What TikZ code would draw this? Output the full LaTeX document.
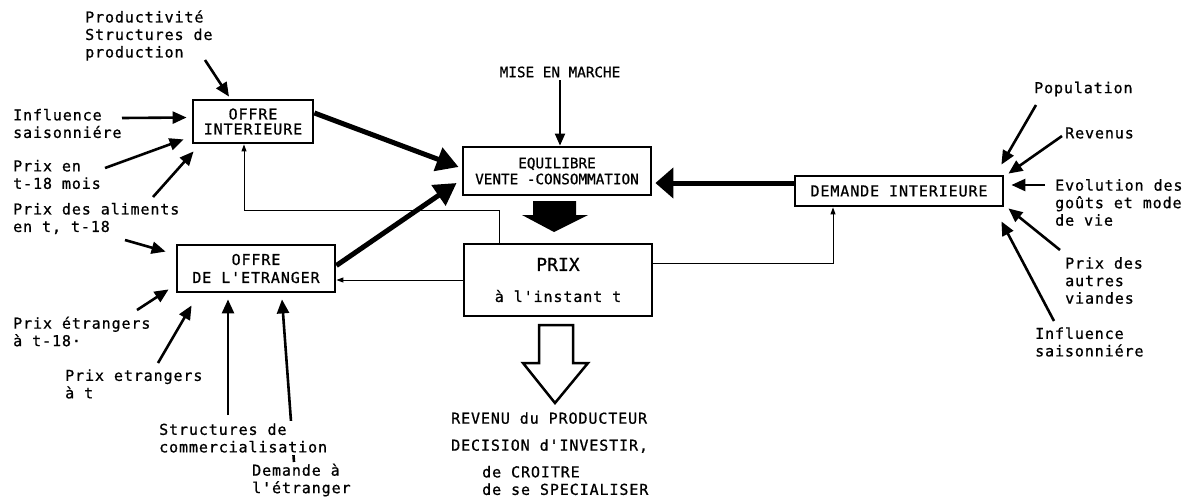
\documentclass[tikz,border=0pt]{standalone}
\usepackage{fontspec}
\newfontfamily\tw{DejaVu Sans Mono}[LetterSpace=6,Ligatures=TeXOff,FakeBold=0.8]
\newfontfamily\twn{DejaVu Sans Mono}[Ligatures=TeXOff,FakeBold=0.8]
\usetikzlibrary{arrows.meta}
\begin{document}
\begin{tikzpicture}[x=1pt,y=-1pt,
    boite/.style={draw, line width=2.8pt, inner sep=0pt, align=center, font=\tw\fontsize{15}{15}\selectfont},
    etiq/.style={inner sep=0pt, anchor=west, align=left, font=\tw\fontsize{15}{17.5}\selectfont},
    entree/.style={line width=2.6pt, -{Triangle[length=14pt,width=12pt]}},
    gros/.style={line width=5pt, -{Triangle[length=22pt,width=24pt]}},
    fin/.style={line width=1pt, -{Triangle[length=7pt,width=5pt]}}]
\useasboundingbox (0,0) rectangle (1203,499);

% blocs
\node[boite, minimum width=120pt, minimum height=43pt] (oi) at (253,121.5) {OFFRE\\INTERIEURE};
\node[boite, minimum width=158pt, minimum height=47pt] (oe) at (256,268.5) {OFFRE\\[3pt]DE L'ETRANGER};
\node[boite, minimum width=188pt, minimum height=48pt, font=\twn\fontsize{14.3}{16}\selectfont] (eq) at (557,171) {EQUILIBRE\\VENTE -CONSOMMATION};
\node[boite, minimum width=188pt, minimum height=72pt] (px) at (558,280) {{\twn\fontsize{18}{18}\selectfont PRIX}\\[16pt]à l'instant t};
\node[boite, minimum width=208pt, minimum height=30pt] (di) at (899,191) {DEMANDE INTERIEURE};

% facteurs a gauche
\node[etiq] (prod) at (85,35.5) {Productivité\\Structures de\\production};
\node[etiq] (inflg) at (13,123.5) {Influence\\saisonniére};
\node[etiq] (pt18) at (13,174.5) {Prix en\\t-18 mois};
\node[etiq] (alim) at (13,218.5) {Prix des aliments\\en t, t-18};
\node[etiq] (pe18) at (13,331.5) {Prix étrangers\\à t-18·};
\node[etiq] (pet) at (65,384) {Prix etrangers\\à t};
\node[etiq] (dem) at (252,480) {Demande à\\l'étranger};

\coordinate (s1) at (205,60);
\coordinate (s2) at (122,118);
\coordinate (s3) at (105,168);
\coordinate (s4) at (153,197);
\coordinate (s5) at (125,240);
\coordinate (s6) at (137,310);
\coordinate (s7) at (158,363);
\coordinate (s8) at (228,415);
\coordinate (s9) at (294,462);

\draw[entree] (s1) -- ([xshift=-24pt,yshift=2pt]oi.north);
\draw[entree] (s2) -- ([xshift=-5pt,yshift=4pt]oi.west);
\draw[entree] (s3) -- ([xshift=-8pt,yshift=5pt]oi.south west);
\draw[entree] (s4) -- ([xshift=2pt,yshift=-7pt]oi.south west);
\draw[entree] (s5) -- ([xshift=-10pt,yshift=-8pt]oe.north west);
\draw[entree] (s6) -- ([xshift=-7pt,yshift=4pt]oe.south west);
\draw[entree] (s7) -- ([xshift=16pt,yshift=-12pt]oe.south west);
\draw[entree] (s8) -- ([xshift=-28pt,yshift=-6pt]oe.south);
\draw[entree] (s9) -- ([xshift=26pt,yshift=-6pt]oe.south);

\node[etiq, fill=white, inner ysep=2pt] (scom) at (159,438) {Structures de\\commercialisation};

% facteurs a droite
\node[etiq] (pop) at (1034,89) {Population};
\node[etiq] (revn) at (1065,133) {Revenus};
\node[etiq] (evol) at (1055,202.5) {Evolution des\\goûts et mode\\de vie};
\node[etiq] (pav) at (1065,280.5) {Prix des\\autres\\viandes};
\node[etiq] (inflr) at (1035,342) {Influence\\saisonniére};

\coordinate (r1) at (1036,105);
\coordinate (r2) at (1062,136);
\coordinate (r3) at (1045,185);
\coordinate (r4) at (1060,250);
\coordinate (r5) at (1054,321);

\draw[entree] (r1) -- ([xshift=-3pt,yshift=10pt]di.north east);
\draw[entree] (r2) -- ([xshift=4pt,yshift=1pt]di.north east);
\draw[entree] (r3) -- ([xshift=7pt,yshift=6pt]di.east);
\draw[entree] (r4) -- ([xshift=4pt,yshift=-1pt]di.south east);
\draw[entree] (r5) -- ([xshift=-3pt,yshift=-14pt]di.south east);

% centre
\node[font=\twn\fontsize{14.3}{16}\selectfont, inner sep=0pt] (mise) at (560,72) {MISE EN MARCHE};
\draw[line width=2pt, -{Triangle[length=12pt,width=10pt]}] ([yshift=-8pt]mise.center) -- ([xshift=3pt]eq.north);

\draw[gros] ([yshift=8.5pt]oi.east) -- ([xshift=-3pt,yshift=4pt]eq.west);
\draw[gros] ([yshift=3pt]oe.east) -- ([xshift=-5pt,yshift=-12pt]eq.west);
\draw[line width=5pt, -{Triangle[length=18pt,width=30pt]}] ([yshift=8pt]di.west) -- ([xshift=3pt,yshift=-12pt]eq.east);

\draw[fin] ([xshift=-59pt]px.north) -- ++(0,-32) -| ([xshift=-9pt]oi.south);
\draw[fin] (px.west) -- (px.west -| oe.east);
\draw[fin] ([yshift=17pt]px.east) -| ([xshift=-66pt]di.south);

\fill (533,201) -- (576,201) -- (576,215) -- (588,215) -- (554,232) -- (522,215) -- (533,215) -- cycle;
\draw[line width=2.5pt, line join=miter] (539,325) -- (573,325) -- (573,363) -- (588,363) -- (555,403) -- (523,363) -- (539,363) -- cycle;

\node[etiq, align=left, font=\tw\fontsize{15}{27}\selectfont] (rev) at (451,432.5) {REVENU du PRODUCTEUR\\DECISION d'INVESTIR,};
\node[etiq] (cro) at (482,480.5) {de CROITRE\\de se SPECIALISER};
\end{tikzpicture}
\end{document}
